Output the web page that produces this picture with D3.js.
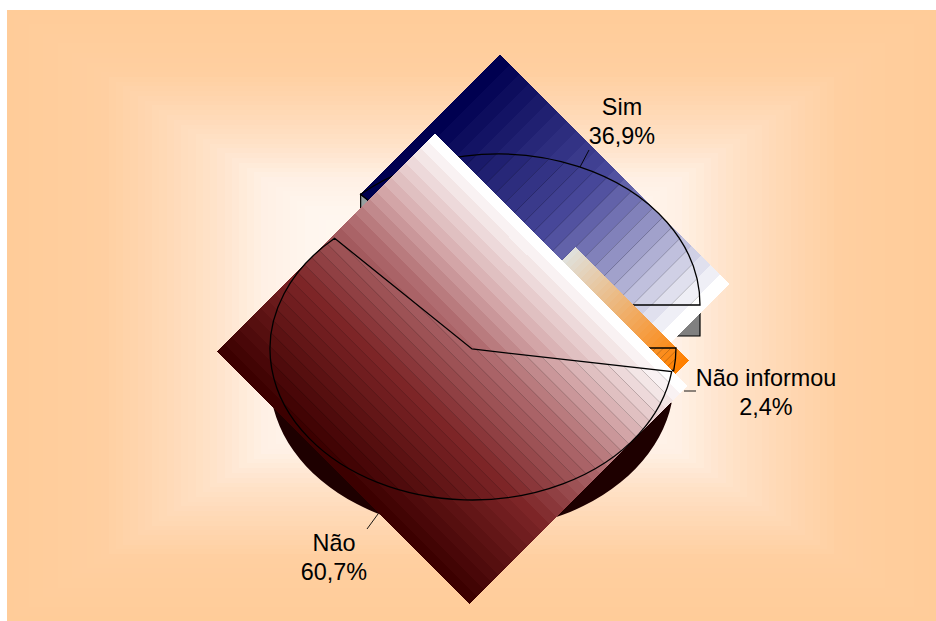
<!DOCTYPE html>
<html lang="pt">
<head>
<meta charset="utf-8">
<title>Sim / Não / Não informou</title>
<script src="https://cdn.jsdelivr.net/npm/d3@7"></script>
<style>
  html, body { margin: 0; padding: 0; background: #fff; }
  svg { display: block; }
  text { font-family: "Liberation Sans", Arial, sans-serif; font-size: 23.4px; fill: #000; text-anchor: middle; }
</style>
</head>
<body>
<svg id="chart" width="936" height="621"></svg>
<script>
// Survey answers and their printed shares
const answers = ["Sim", "Não", "Não informou"];
const shares = [36.9, 60.7, 2.4];
const shareLabels = ["36,9%", "60,7%", "2,4%"];

// Gradient ramps for each slice, first stop to last stop
const rampStops = [
  ["#000050", "#4a4a9c", "#ffffff"],
  ["#3c0000", "#7c2426", "#b06c70", "#d8aeb0", "#ffffff"],
  ["#e0e0da", "#efb06d", "#ff8000"]
];
const rampAt = [[0, 0.5, 1], [0, 0.34, 0.62, 0.78, 1], [0, 0.5, 1]];

const width = 936, height = 621;
const plate = { x: 7, y: 10, w: 929, h: 611 };
const rx = 202, ry = 151, depth = 31;
const centers = [[498, 305], [472, 349], [474, 348]];
// Ramp runs along x+y ("u") or x-y ("v"); extra reach lets the last band overhang the slice
const rampAxis = ["u", "v", "u"];
const overhang = [[0, 9], [5, 1], [0, 5]];
const bandCount = [24, 30, 30];
const seamOpacity = [0.3, 0.28, 0.3];
const drawOrder = [0, 2, 1];

const labelSpots = [[622, 115], [334, 551], [766, 386]];
const leaders = [[[580, 167], [589, 150]], [[378, 514], [367, 529]], [[684, 391], [696, 391]]];

const svg = d3.select("#chart");
const defs = svg.append("defs");

// Background plate: concentric rectangles from peach edge to pale centre
const plateCx = plate.x + plate.w / 2, plateCy = plate.y + plate.h / 2;
const plateTone = d3.scaleLinear()
  .domain([0, 0.2, 0.35, 0.45, 0.55, 0.65, 1])
  .range(["#ffcc99", "#ffcfa0", "#ffdab8", "#ffe3ca", "#fff0e4", "#fff6ee", "#fffaf6"]);
const plateSteps = 64;
const plateG = svg.append("g").attr("shape-rendering", "crispEdges");
d3.range(plateSteps).forEach(i => {
  const k = 1 - i / plateSteps;
  plateG.append("rect")
    .attr("x", plateCx - plate.w / 2 * k)
    .attr("y", plateCy - plate.h / 2 * k)
    .attr("width", plate.w * k)
    .attr("height", plate.h * k)
    .attr("fill", plateTone(i / (plateSteps - 1)));
});

// Slices run counter-clockwise from three o'clock
const pie = d3.pie().sort(null).startAngle(Math.PI / 2).endAngle(Math.PI / 2 - 2 * Math.PI);
const slices = pie(shares);
const arc = d3.arc().innerRadius(0).outerRadius(rx);
const squash = ry / rx;
const place = (c, dy = 0) => `translate(${c[0]},${c[1] + dy}) scale(1,${squash})`;
const rimPoint = (c, a) => [c[0] + rx * Math.sin(a), c[1] - ry * Math.cos(a)];

function wedgeExtent(i) {
  const s = slices[i], c = centers[i];
  const steps = d3.range(0, 201).map(j => s.startAngle + (s.endAngle - s.startAngle) * j / 200);
  const pts = steps.map(a => rimPoint(c, a)).concat([c]);
  return {
    u: d3.extent(pts, p => p[0] + p[1]),
    v: d3.extent(pts, p => p[0] - p[1])
  };
}
const toXY = (u, v) => [(u + v) / 2, (u - v) / 2];
const polyPath = pts => "M" + pts.map(p => p.join(",")).join("L") + "Z";

function drawSlice(i) {
  const ext = wedgeExtent(i), axis = rampAxis[i];
  const other = axis === "u" ? "v" : "u";
  const a0 = ext[axis][0] - overhang[i][0], a1 = ext[axis][1] + overhang[i][1];
  const b0 = ext[other][0], b1 = ext[other][1];
  const pos = d3.scaleLinear().domain([0, bandCount[i]]).range([a0, a1]);
  const tone = d3.scaleLinear().domain(rampAt[i]).range(rampStops[i]);
  const corner = (a, b) => axis === "u" ? toXY(a, b) : toXY(b, a);

  const g = svg.append("g");
  const bands = d3.range(bandCount[i]);
  g.append("g").attr("shape-rendering", "crispEdges")
    .selectAll("path").data(bands).join("path")
    .attr("d", k => polyPath([corner(pos(k), b0), corner(pos(k + 1) + (k < bandCount[i] - 1 ? 0.6 : 0), b0), corner(pos(k + 1) + (k < bandCount[i] - 1 ? 0.6 : 0), b1), corner(pos(k), b1)]))
    .attr("fill", k => tone(k / (bandCount[i] - 1)));

  // Thin seams between bands only show inside the slice itself
  const clipId = "slice-clip-" + i;
  defs.append("clipPath").attr("id", clipId).append("path")
    .attr("d", arc(slices[i])).attr("transform", place(centers[i]));
  g.append("g").attr("clip-path", `url(#${clipId})`)
    .selectAll("line").data(bands.slice(1)).join("line")
    .attr("x1", k => corner(pos(k), b0)[0]).attr("y1", k => corner(pos(k), b0)[1])
    .attr("x2", k => corner(pos(k), b1)[0]).attr("y2", k => corner(pos(k), b1)[1])
    .attr("stroke", "#000").attr("stroke-opacity", seamOpacity[i]).attr("stroke-width", 0.7);

  g.append("path")
    .attr("d", arc(slices[i])).attr("transform", place(centers[i]))
    .attr("fill", "none").attr("stroke", "#000").attr("stroke-width", 1.3)
    .attr("vector-effect", "non-scaling-stroke").attr("stroke-linejoin", "miter");
}

// Cut faces of the "Sim" slice sit under its gradient square
function wall(c, a, fill) {
  const p = rimPoint(c, a);
  svg.append("path")
    .attr("d", polyPath([c, p, [p[0], p[1] + depth], [c[0], c[1] + depth]]))
    .attr("fill", fill).attr("stroke", "#000").attr("stroke-width", 1.2);
}
wall(centers[0], slices[0].endAngle, "#98a0a0");
wall(centers[0], slices[0].startAngle, "#808080");

drawOrder.forEach(i => {
  if (i === 1) {
    // Rim of the large slice shows below its square
    svg.append("path").attr("d", arc(slices[1])).attr("transform", place(centers[1], depth)).attr("fill", "#1e0000");
  }
  drawSlice(i);
});

// Leader lines and labels
svg.append("g").selectAll("line").data(leaders).join("line")
  .attr("x1", d => d[0][0]).attr("y1", d => d[0][1])
  .attr("x2", d => d[1][0]).attr("y2", d => d[1][1])
  .attr("stroke", "#000").attr("stroke-width", 0.9);

const labels = svg.append("g").selectAll("text").data(answers).join("text")
  .attr("x", (d, i) => labelSpots[i][0]).attr("y", (d, i) => labelSpots[i][1]);
labels.append("tspan").text(d => d);
labels.append("tspan").attr("x", (d, i) => labelSpots[i][0]).attr("dy", 29).text((d, i) => shareLabels[i]);
</script>
</body>
</html>
